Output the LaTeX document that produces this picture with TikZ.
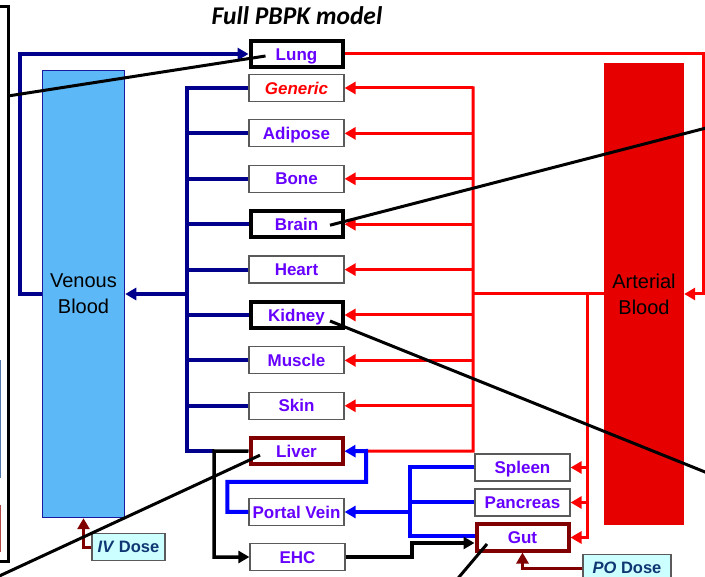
\documentclass[tikz,border=0pt]{standalone}
\usepackage{fontspec}
\setmainfont{Liberation Sans}
\newfontfamily\titlefont{Carlito}
\usepackage{tikz}
\usetikzlibrary{arrows.meta,positioning}
\usepackage{xcolor}
\definecolor{organViolet}{RGB}{102,0,255}
\definecolor{veinNavy}{RGB}{0,0,140}
\definecolor{portalBlue}{RGB}{0,0,255}
\definecolor{arteryRed}{RGB}{255,0,0}
\definecolor{arterialFill}{RGB}{230,0,0}
\definecolor{venousFill}{RGB}{92,184,247}
\definecolor{venousEdge}{RGB}{26,26,160}
\definecolor{doseMaroon}{RGB}{128,0,0}
\definecolor{doseCyan}{RGB}{204,255,255}
\definecolor{doseText}{RGB}{15,55,115}
\definecolor{boxGray}{RGB}{90,90,90}
\definecolor{fragBlue}{RGB}{80,120,170}
\definecolor{fragRed}{RGB}{180,70,70}

\begin{document}
\begin{tikzpicture}[
  x=1pt, y=-1pt,
  organ/.style={rectangle, draw=boxGray, line width=1.2pt, fill=white,
                minimum width=95pt, minimum height=27pt, inner sep=0pt,
                text height=12.2pt, text depth=0pt,
                font=\fontsize{17}{20}\selectfont\bfseries,
                text=organViolet},
  keyorgan/.style={organ, draw=#1, line width=4pt,
                   minimum width=92pt, minimum height=26pt},
  pool/.style={rectangle, fill=#1, align=center, inner sep=0pt,
               font=\fontsize{20}{26}\selectfont},
  dosebox/.style={rectangle, draw=boxGray, line width=1.2pt,
                  fill=doseCyan, minimum height=27pt, inner sep=0pt,
                  text height=11.6pt, text depth=0pt,
                  font=\fontsize{16.5}{19}\selectfont\bfseries,
                  text=doseText},
  arr/.style={-{Triangle[length=11pt,width=12pt]}},
  vein/.style={line width=4pt, veinNavy},
  artery/.style={line width=3pt, arteryRed},
  portalflow/.style={line width=4pt, portalBlue},
  bile/.style={line width=3.5pt, black},
  dose/.style={line width=3pt, doseMaroon},
  callout/.style={line width=3pt, black},
  node distance=45.4pt
]
  \useasboundingbox (0,0) rectangle (705,577);
  \clip (0,0) rectangle (705,577);

  % side frame and fragments of the next panel
  \draw[line width=3pt] (-3,7) -- (8,7) -- (8,561) -- (-3,561);
  \draw[fragBlue, line width=1.5pt] (0.5,360) -- (0.5,478);
  \draw[fragRed, line width=1.5pt] (0.5,505) -- (0.5,552);

  \node[font=\titlefont\fontsize{25.5}{28}\selectfont\bfseries\itshape]
    (title) at (297,16) {Full PBPK model};

  \node[pool=venousFill, draw=venousEdge, line width=1.5pt,
        minimum width=82pt, minimum height=447pt]
    (venous) at (83.5,294) {Venous\\Blood};
  \node[pool=arterialFill, minimum width=80pt, minimum height=462pt]
    (arterial) at (644,294) {Arterial\\Blood};

  \node[keyorgan=black] (lung) at (296.5,54) {Lung};
  \node[organ, text=arteryRed,
        font=\fontsize{17}{20}\selectfont\bfseries\itshape]
    (generic) at (296.5,88) {Generic};
  \node[organ, below of=generic] (adipose) {Adipose};
  \node[organ, below of=adipose] (bone) {Bone};
  \node[keyorgan=black, below of=bone] (brain) {Brain};
  \node[organ, below of=brain] (heart) {Heart};
  \node[keyorgan=black, below of=heart] (kidney) {Kidney};
  \node[organ, below of=kidney] (muscle) {Muscle};
  \node[organ, below of=muscle] (skin) {Skin};
  \node[keyorgan=doseMaroon, below of=skin] (liver) {Liver};
  \node[organ] (portalvein) at (296.5,512) {Portal Vein};
  \node[organ] (ehc) at (297.5,557) {EHC};

  \node[organ] (spleen) at (522.5,467.5) {Spleen};
  \node[organ] (pancreas) at (522.5,502.5) {Pancreas};
  \node[keyorgan=doseMaroon] (gut) at (522.5,537.5) {Gut};

  \node[dosebox, minimum width=73pt] (ivdose) at (128.5,547)
    {\textit{IV} Dose};
  \node[dosebox, minimum width=88pt] (podose) at (627,568)
    {\textit{PO} Dose};

  % venous side
  \coordinate (vbus) at (187,294);
  \coordinate (liverJ) at (214,451);
  \foreach \o in {adipose,bone,brain,heart,kidney,muscle,skin}
    \draw[vein] (\o.west) -- (\o.west -| vbus);
  \draw[vein] (generic.west) -| (liverJ -| vbus) -- (liverJ);
  \draw[vein,arr] (vbus) -- (venous.east);
  \draw[vein,arr] (venous.west) -- ++(-22,0) |- (lung.west);

  % arterial side
  \coordinate (abus) at (473,294);
  \coordinate (aright) at (703,294);
  \coordinate (gbus) at (587,294);
  \coordinate (hepJ) at (366,451);
  \draw[artery,arr] (lung.east) -| (aright) -- (arterial.east);
  \draw[artery] (arterial.west) -- (abus);
  \draw[artery, line cap=rect] (generic.east -| abus)
    -- (liver.east -| abus) -- (hepJ);
  \foreach \o in {generic,adipose,bone,brain,heart,kidney,muscle,skin}
    \draw[artery,arr] (\o.east -| abus) -- (\o.east);
  \foreach \o in {spleen,pancreas}
    \draw[artery,arr] (gbus |- \o.east) -- (\o.east);
  \draw[artery,arr] (gbus) |- (gut.east);

  % splanchnic and portal flow
  \coordinate (pbus) at (410,512);
  \coordinate (pvTurn) at (366,482);
  \coordinate (gutIn1) at ([yshift=1.5pt]gut.west);
  \coordinate (gutIn2) at ([yshift=-5.5pt]gut.west);
  \coordinate (ehcTurn) at (412,557);
  \draw[portalflow] (spleen.west) -| (gutIn1 -| pbus) -- (gutIn1);
  \draw[portalflow] (pancreas.west) -- (pancreas.west -| pbus);
  \draw[portalflow,arr] (pbus) -- (portalvein.east);
  \draw[portalflow,arr] (portalvein.west) -- ++(-21,0) |- (pvTurn)
    -- (hepJ) -- (liver.east);

  % bile
  \draw[bile,arr] (liver.west) -- (liverJ) |- (ehc.west);
  \draw[bile,arr] (ehc.east) -- (ehcTurn) |- (gutIn2);

  % doses
  \draw[dose,arr] (ivdose.west) -| (venous.south);
  \draw[dose,arr] (podose.west) -| (gut.south);

  % callout lines
  \coordinate (lungPin) at ([xshift=-31pt,yshift=-2pt]lung.center);
  \coordinate (brainPin) at ([xshift=33.5pt,yshift=-1pt]brain.center);
  \coordinate (kidneyPin) at ([xshift=33.5pt,yshift=-6pt]kidney.center);
  \coordinate (liverPin) at ([xshift=-36.5pt,yshift=-4pt]liver.center);
  \coordinate (gutPin) at ([xshift=-35.5pt,yshift=-6.5pt]gut.center);
  \coordinate (lungEnd) at (8,96);
  \coordinate (brainEnd) at (710,127);
  \coordinate (kidneyEnd) at (710,474);
  \coordinate (liverEnd) at (-5,578);
  \coordinate (gutEnd) at (454,583);
  \draw[callout] (lungPin) -- (lungEnd);
  \draw[callout] (brainPin) -- (brainEnd);
  \draw[callout] (kidneyPin) -- (kidneyEnd);
  \draw[callout] (liverPin) -- (liverEnd);
  \draw[callout] (gutPin) -- (gutEnd);
\end{tikzpicture}
\end{document}
